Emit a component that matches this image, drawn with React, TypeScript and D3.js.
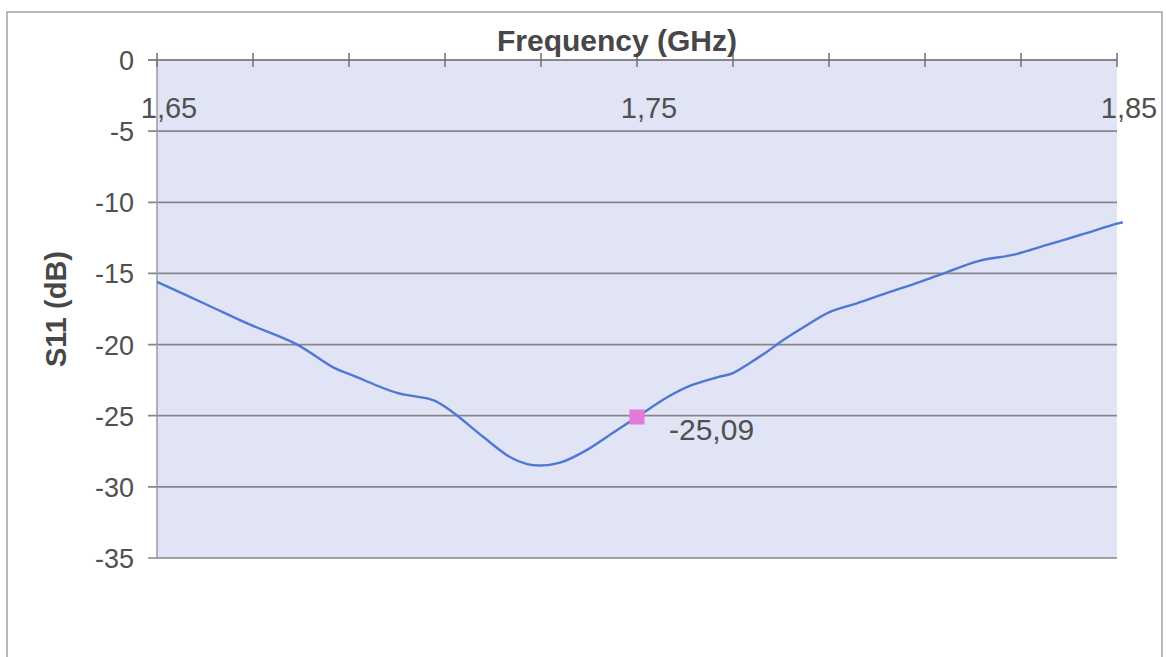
import React from "react";
import * as d3 from "d3";

const W = 1166;
const H = 657;

const freq = [
  1.65, 1.6604, 1.6694, 1.6792, 1.6867, 1.691, 1.7, 1.7075, 1.711, 1.718, 1.7235,
  1.7271, 1.7298, 1.734, 1.7396, 1.745, 1.75, 1.7563, 1.761, 1.7667, 1.77, 1.7735,
  1.7771, 1.7804, 1.7846, 1.7902, 1.7958, 1.8027, 1.809, 1.8146, 1.8215, 1.8283,
  1.8354, 1.8423, 1.85, 1.8512,
];
const s11 = [
  -15.6, -17.2, -18.6, -20.0, -21.6, -22.2, -23.4, -23.9, -24.6, -26.5, -27.9,
  -28.4, -28.5, -28.3, -27.4, -26.2, -25.09, -23.7, -22.9, -22.3, -22.0, -21.3,
  -20.5, -19.7, -18.8, -17.7, -17.1, -16.3, -15.6, -14.9, -14.1, -13.7,
  -13.0, -12.3, -11.5, -11.4,
];
const yTicks = [0, -5, -10, -15, -20, -25, -30, -35];
const xTickVals = [1.65, 1.67, 1.69, 1.71, 1.73, 1.75, 1.77, 1.79, 1.81, 1.83, 1.85];
const xLabelVals = [1.65, 1.75, 1.85];
const markerFreq = 1.75;
const markerVal = -25.09;

const fmt = (v: number) => String(v).replace(".", ",");

export default function App() {
  const left = 157;
  const right = 1117;
  const top = 60;
  const bottom = 558;
  const x = d3.scaleLinear().domain([1.65, 1.85]).range([left, right]);
  const y = d3.scaleLinear().domain([0, -35]).range([top, bottom]);
  const pts = freq.map((f, i) => [f, s11[i]] as [number, number]);
  const line = d3
    .line<[number, number]>()
    .x((d) => x(d[0]))
    .y((d) => y(d[1]))
    .curve(d3.curveCatmullRom.alpha(0.5));

  const textColor = "#505050";
  const gridColor = "#86868a";
  const font = "'Liberation Sans', Arial, sans-serif";

  return (
    <svg
      width={W}
      height={H}
      style={{ position: "absolute", left: 0, top: 0, background: "#fff" }}
      fontFamily={font}
    >
      <rect x={7} y={12} width={1155} height={700} fill="#fff" stroke="#a0a0a8" strokeWidth={1.5} />
      <rect x={left} y={top} width={right - left} height={bottom - top} fill="#e0e4f4" />
      {yTicks.map((t) => (
        <g key={t}>
          <line
            x1={148}
            x2={right}
            y1={y(t)}
            y2={y(t)}
            stroke={gridColor}
            strokeWidth={t === 0 ? 2 : 1.7}
          />
          <text x={134} y={y(t) + 10} textAnchor="end" fontSize={27} fill={textColor}>
            {t}
          </text>
        </g>
      ))}
      <line x1={left} x2={left} y1={top} y2={bottom} stroke="#9a9aa4" strokeWidth={1.5} />
      {xTickVals.map((t) => (
        <line key={t} x1={x(t)} x2={x(t)} y1={53} y2={67} stroke="#6f6f75" strokeWidth={1.5} />
      ))}
      {xLabelVals.map((t) => (
        <text key={t} x={x(t) + 12} y={118} textAnchor="middle" fontSize={29} fill={textColor}>
          {fmt(t)}
        </text>
      ))}
      <path d={line(pts) || ""} fill="none" stroke="#4f78d4" strokeWidth={2.4} />
      <rect
        x={x(markerFreq) - 7.5}
        y={y(markerVal) - 7.5}
        width={15}
        height={15}
        fill="#e27ad8"
      />
      <text x={x(markerFreq) + 32} y={y(markerVal) + 23} fontSize={30} fill={textColor}>
        {fmt(markerVal)}
      </text>
      <text x={617} y={51} textAnchor="middle" fontSize={30} fontWeight="bold" fill="#474747">
        Frequency (GHz)
      </text>
      <text
        transform={`translate(66, ${(top + bottom) / 2}) rotate(-90)`}
        textAnchor="middle"
        fontSize={29}
        fontWeight="bold"
        fill="#474747"
      >
        S11 (dB)
      </text>
    </svg>
  );
}
